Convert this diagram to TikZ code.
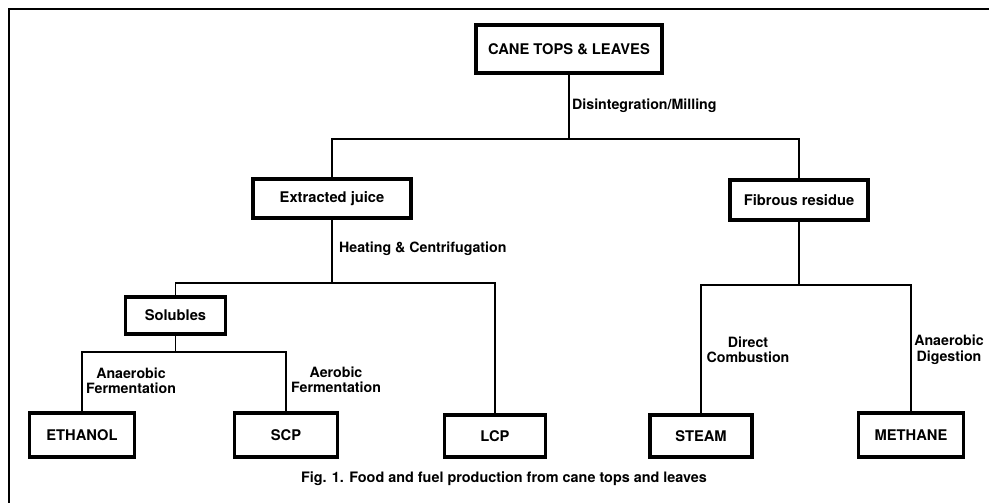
\documentclass[tikz,border=0pt]{standalone}
\usepackage{fontspec}
\setmainfont{TeX Gyre Heros}
\usetikzlibrary{positioning,calc}

\begin{document}
\begin{tikzpicture}[x=1pt,y=-1pt,
 box/.style={draw,line width=3.4pt,inner sep=0pt,font=\bfseries\fontsize{14.7}{17}\selectfont},
 link/.style={line width=1.6pt},
 lab/.style={font=\bfseries\fontsize{14.2}{15.5}\selectfont,align=center,inner sep=0pt}]
 \useasboundingbox (0,0) rectangle (989,503);
 \draw[line width=2pt] (9,503)--(9,9)--(989,9);
 % boxes
 \node[box,minimum width=186,minimum height=48] (cane) at (569,49) {CANE TOPS \& LEAVES};
 \node[box,minimum width=158,minimum height=39] (juice) at (332,198.5) {Extracted juice};
 \node[box,minimum width=138,minimum height=40] (fibre) at (799,200) {Fibrous residue};
 \node[box,minimum width=100,minimum height=37] (sol) at (175.5,315.5) {Solubles};
 \node[box,minimum width=105,minimum height=44] (eth) at (82,435) {ETHANOL};
 \node[box,minimum width=103,minimum height=44] (scp) at (286,435) {SCP};
 \node[box,minimum width=101,minimum height=42] (lcp) at (495,436) {LCP};
 \node[box,minimum width=102,minimum height=42] (steam) at (701,436) {STEAM};
 \node[box,minimum width=105,minimum height=44] (meth) at (911,435) {METHANE};
 % junctions
 \coordinate (split1) at (cane.south |- 0,139);
 \coordinate (split2) at (juice.south |- 0,283);
 \coordinate (split3) at (sol.south |- 0,352);
 \coordinate (split4) at (fibre.south |- 0,285);
 % connectors
 \draw[link] (cane.south) -- (split1);
 \draw[link] (juice.north) |- (split1) -| (fibre.north);
 \draw[link] (juice.south) -- (split2);
 \draw[link] (sol.north) |- (split2) -| (lcp.north);
 \draw[link] (sol.south) -- (split3);
 \draw[link] (eth.north) |- (split3) -| (scp.north);
 \draw[link] (fibre.south) -- (split4);
 \draw[link] (steam.north) |- (split4) -| (meth.north);
 % labels
 \node[lab,right] (mill) at (572,106) {Disintegration/Milling};
 \node[lab,right] (heat) at (339,249) {Heating \& Centrifugation};
 \node[lab] (anfer) at (131,381) {Anaerobic\\Fermentation};
 \node[lab] (aefer) at (336,380) {Aerobic\\Fermentation};
 \node[lab] (comb) at (748,350) {Direct\\Combustion};
 \node[lab] (dig) at (949,350) {Anaerobic\\Digestion};
 \node[lab,font=\bfseries\fontsize{14.4}{16}\selectfont] (cap) at (504,479)
 {Fig. 1. Food and fuel production from cane tops and leaves};
\end{tikzpicture}
\end{document}
